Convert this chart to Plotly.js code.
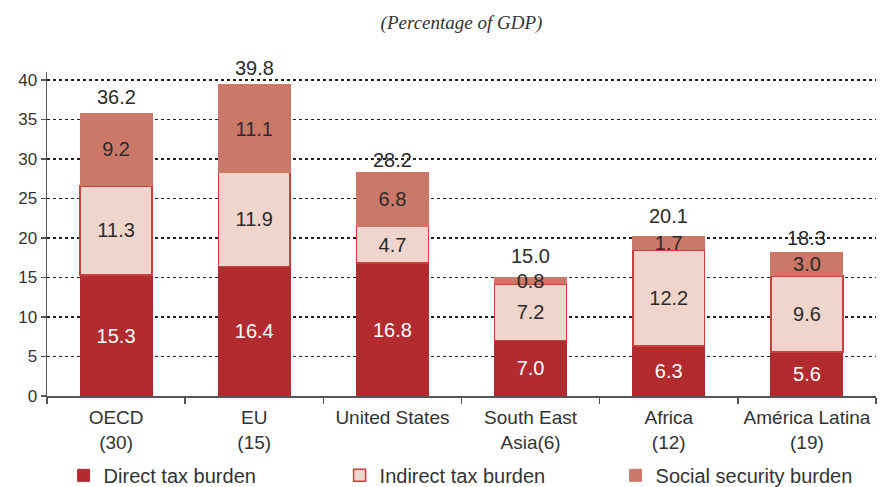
<!DOCTYPE html>
<html>
<head>
<meta charset="utf-8">
<script src="https://cdn.plot.ly/plotly-3.0.1.min.js"></script>
<style>html,body{margin:0;padding:0;background:#fff;}#chart{width:888px;height:487px;}</style>
</head>
<body>
<div id="chart"></div>
<script>
const categories = ["OECD<br>(30)", "EU<br>(15)", "United States", "South East<br>Asia(6)", "Africa<br>(12)", "América Latina<br>(19)"];
const directTax = [15.3, 16.4, 16.8, 7.0, 6.3, 5.6];
const indirectTax = [11.3, 11.9, 4.7, 7.2, 12.2, 9.6];
const socialSecurity = [9.2, 11.1, 6.8, 0.8, 1.7, 3.0];
const totals = [36.2, 39.8, 28.2, 15.0, 20.1, 18.3];
const seriesNames = ["Direct tax burden", "Indirect tax burden", "Social security burden"];

const labelFont = {family: "Liberation Sans, Arial, sans-serif", size: 20};
const fmt = v => v.toFixed(1);

function barTrace(name, values, fill, lineColor, lineWidth, textColor) {
  return {
    type: "bar", name: name, x: categories, y: values,
    text: values.map(fmt), textposition: "inside", insidetextanchor: "middle",
    constraintext: "none", cliponaxis: false,
    insidetextfont: Object.assign({}, labelFont, {color: textColor}),
    textfont: Object.assign({}, labelFont, {color: textColor}),
    marker: {color: fill, line: {color: lineColor, width: lineWidth}},
    hoverinfo: "skip"
  };
}

const data = [
  barTrace(seriesNames[0], directTax, "#B22B2E", "#B22B2E", 1, "#ffffff"),
  barTrace(seriesNames[1], indirectTax, "#F0D5CC", "#C9403F", 1.5, "#2b2b2b"),
  barTrace(seriesNames[2], socialSecurity, "#CC7868", "#CC7868", 1, "#2b2b2b")
];

const annotations = totals.map((t, i) => ({
  x: categories[i], y: t, xref: "x", yref: "y",
  text: fmt(t), showarrow: false, yanchor: "bottom",
  yshift: socialSecurity[i] < 2 ? 8 : 0,
  font: Object.assign({}, labelFont, {color: "#2b2b2b"})
}));

const layout = {
  width: 888, height: 487,
  margin: {l: 47, r: 12, t: 72, b: 91, autoexpand: false},
  paper_bgcolor: "#ffffff", plot_bgcolor: "#ffffff",
  barmode: "stack", bargap: 0.48,
  title: {text: "(Percentage of GDP)", x: 0.5, xref: "paper", y: 0.955, yanchor: "middle",
          font: {family: "Liberation Serif, Times New Roman, serif", size: 19, color: "#333", style: "italic"}},
  xaxis: {
    type: "category", showline: true, linecolor: "#555", linewidth: 1.5,
    ticks: "outside", tickson: "boundaries", ticklen: 6, tickcolor: "#555", tickwidth: 1.5,
    tickfont: {family: "Liberation Sans, Arial, sans-serif", size: 19, color: "#333"},
    ticklabelstandoff: 4,
    showgrid: false, zeroline: false, fixedrange: true, automargin: false
  },
  yaxis: {
    range: [0, 41], tickvals: [0, 5, 10, 15, 20, 25, 30, 35, 40],
    showline: true, linecolor: "#555", linewidth: 1.5,
    ticks: "outside", ticklen: 5, tickcolor: "#555", tickwidth: 1.5,
    tickfont: {family: "Liberation Sans, Arial, sans-serif", size: 17, color: "#333"},
    showgrid: true, gridcolor: "#222", gridwidth: 1.3, griddash: "3px,3px",
    zeroline: false, fixedrange: true, automargin: false
  },
  legend: {orientation: "h", x: 0.02, xanchor: "left", xref: "paper",
           y: 0.024, yanchor: "middle", yref: "container", bgcolor: "rgba(0,0,0,0)",
           font: {family: "Liberation Sans, Arial, sans-serif", size: 20, color: "#333"},
           entrywidth: 231, entrywidthmode: "pixels", traceorder: "normal", itemwidth: 30},
  annotations: annotations,
  showlegend: true
};

Plotly.newPlot("chart", data, layout, {displayModeBar: false, staticPlot: true});
</script>
</body>
</html>
